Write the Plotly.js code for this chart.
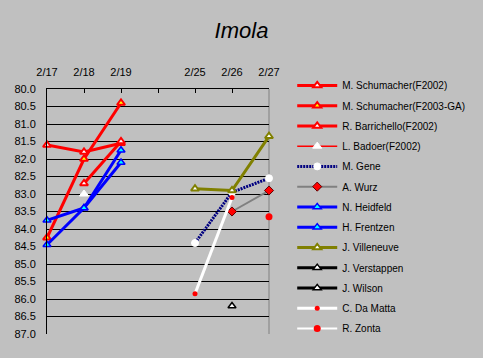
<!DOCTYPE html>
<html>
<head>
<meta charset="utf-8">
<script src="https://cdn.plot.ly/plotly-3.0.1.min.js"></script>
<style>html,body{margin:0;padding:0;background:#c0c0c0;}#chart{width:483px;height:358px;}</style>
</head>
<body>
<div id="chart"></div>
<script>
var categories = ['2/17', '2/18', '2/19', ' ', '2/25', '2/26', '2/27'];
var yTickVals = [80.0, 80.5, 81.0, 81.5, 82.0, 82.5, 83.0, 83.5, 84.0, 84.5, 85.0, 85.5, 86.0, 86.5, 87.0];

var schumacherF2002 = [81.6, 81.8, 81.55, null, null, null, null];
var schumacherF2003GA = [84.25, 82.0, 80.4, null, null, null, null];
var barrichelloF2002 = [null, 82.7, 81.5, null, null, null, null];
var badoerF2002 = [null, 83.0, null, null, null, null, null];
var gene = [null, null, null, null, 84.4, 82.95, 82.55];
var wurz = [null, null, null, null, null, 83.5, 82.9];
var heidfeld = [83.75, 83.4, 81.75, null, null, null, null];
var frentzen = [84.45, 83.4, 82.1, null, null, null, null];
var villeneuve = [null, null, null, null, 82.85, 82.9, 81.35];
var verstappen = [null, null, null, null, null, 86.2, null];
var wilson = [null, null, null, null, null, null, null];
var daMatta = [null, null, null, null, 85.85, 83.1, null];
var zonta = [null, null, null, null, null, null, 83.65];

function tr(name, y, line, marker) {
  return {
    type: 'scatter', mode: 'lines+markers', name: name,
    x: categories, y: y, line: line, marker: marker,
    cliponaxis: false, connectgaps: false, legendgroup: name
  };
}

var data = [
  tr('M. Schumacher(F2002)', schumacherF2002, {color: '#ff0000', width: 3},
     {symbol: 'triangle-up', size: 7, color: '#ffffff', line: {color: '#ff0000', width: 2}}),
  tr('M. Schumacher(F2003-GA)', schumacherF2003GA, {color: '#ff0000', width: 3},
     {symbol: 'triangle-up', size: 7, color: '#ffff00', line: {color: '#ff0000', width: 2}}),
  tr('R. Barrichello(F2002)', barrichelloF2002, {color: '#ff0000', width: 3},
     {symbol: 'triangle-up', size: 7, color: '#ffffff', line: {color: '#ff0000', width: 2}}),
  tr('L. Badoer(F2002)', badoerF2002, {color: '#ff0000', width: 1.5},
     {symbol: 'triangle-up', size: 8, color: '#ffffff', line: {color: '#ffffff', width: 1}}),
  tr('M. Gene', gene, {color: '#000080', width: 3, dash: '2px,1px'},
     {symbol: 'circle', size: 7, color: '#ffffff', line: {color: '#ffffff', width: 1}}),
  tr('A. Wurz', wurz, {color: '#808080', width: 2},
     {symbol: 'diamond', size: 7, color: '#ff0000', line: {color: '#600000', width: 1}}),
  tr('N. Heidfeld', heidfeld, {color: '#0000ff', width: 3},
     {symbol: 'triangle-up', size: 7, color: '#00ffff', line: {color: '#0000ff', width: 1.5}}),
  tr('H. Frentzen', frentzen, {color: '#0000ff', width: 3},
     {symbol: 'triangle-up', size: 7, color: '#00ffff', line: {color: '#0000ff', width: 1.5}}),
  tr('J. Villeneuve', villeneuve, {color: '#808000', width: 3},
     {symbol: 'triangle-up', size: 7, color: '#ffffff', line: {color: '#808000', width: 2}}),
  tr('J. Verstappen', verstappen, {color: '#000000', width: 3},
     {symbol: 'triangle-up', size: 7, color: '#ffffff', line: {color: '#000000', width: 1.5}}),
  tr('J. Wilson', wilson, {color: '#000000', width: 3},
     {symbol: 'triangle-up', size: 7, color: '#ffffff', line: {color: '#000000', width: 1.5}}),
  tr('C. Da Matta', daMatta, {color: '#ffffff', width: 3},
     {symbol: 'circle', size: 5, color: '#ff0000', line: {color: '#ff0000', width: 0}}),
  tr('R. Zonta', zonta, {color: '#ffffff', width: 2},
     {symbol: 'circle', size: 7, color: '#ff0000', line: {color: '#ff0000', width: 0}})
];

var layout = {
  width: 483, height: 358,
  paper_bgcolor: '#c0c0c0', plot_bgcolor: '#c0c0c0',
  margin: {l: 47, r: 214, t: 89, b: 24, pad: 0, autoexpand: false},
  font: {family: 'Liberation Sans, Arial, sans-serif', size: 11, color: '#000000'},
  title: {text: 'Imola', x: 0.5, xref: 'container', xanchor: 'center',
          y: 0.916, yref: 'container', yanchor: 'middle',
          font: {family: 'Liberation Sans, Arial, sans-serif', size: 22, style: 'italic', color: '#000000'}},
  showlegend: true,
  legend: {
    xref: 'container', x: 0.605, xanchor: 'left',
    yref: 'container', y: 0.802, yanchor: 'top',
    maxheight: 1,
    bgcolor: 'rgba(0,0,0,0)', borderwidth: 0,
    font: {size: 10, color: '#000000'},
    traceorder: 'grouped', tracegroupgap: 1.25, itemwidth: 40
  },
  xaxis: {
    type: 'category', categoryorder: 'array', categoryarray: categories,
    side: 'top', range: [0, 6], autorange: false,
    showgrid: false, zeroline: false,
    showline: true, linecolor: '#000000', linewidth: 1,
    ticks: 'inside', ticklen: 4, tickcolor: '#000000',
    ticklabelstandoff: 8, fixedrange: true
  },
  yaxis: {
    range: [87, 80], autorange: false,
    tickmode: 'array', tickvals: yTickVals, tickformat: '.1f',
    showgrid: true, gridcolor: '#000000', gridwidth: 1,
    zeroline: false, showline: true, linecolor: '#000000', linewidth: 1,
    ticks: '', ticklabelstandoff: 8, fixedrange: true
  },
  shapes: [
    {type: 'line', xref: 'paper', yref: 'paper', x0: 1, x1: 1, y0: 0, y1: 1,
     line: {color: '#808080', width: 1}, layer: 'below'}
  ]
};

Plotly.newPlot('chart', data, layout, {displayModeBar: false, staticPlot: true});
</script>
</body>
</html>
